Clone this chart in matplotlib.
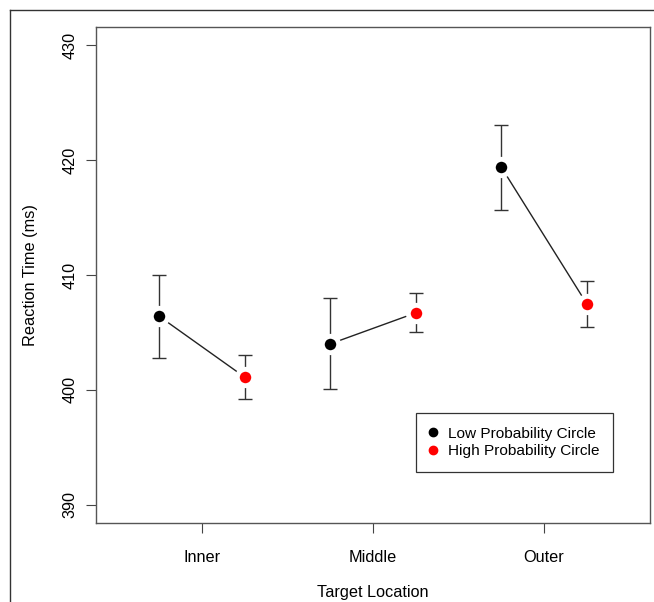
import matplotlib
matplotlib.use("Agg")
import matplotlib.pyplot as plt
from matplotlib.lines import Line2D
import numpy as np

plt.rcParams['font.family'] = ['Liberation Sans', 'DejaVu Sans']

categories = ["Inner", "Middle", "Outer"]
low_mean = [406.4, 404.0, 419.4]
low_upper = [410.0, 408.0, 423.1]
low_lower = [402.8, 400.1, 415.7]
high_mean = [401.1, 406.7, 407.5]
high_upper = [403.0, 408.4, 409.5]
high_lower = [399.2, 405.0, 405.5]
yticks = [390, 400, 410, 420, 430]

FS = 11.7
W, H = 654, 602
fig = plt.figure(figsize=(W / 100, H / 100), dpi=100)
ax = fig.add_axes([96 / W, 1 - 523 / H, 554 / W, 496 / H])

x = np.arange(1, len(categories) + 1)
off = 0.25

series = [
    (x - off, low_mean, low_lower, low_upper, "black", "Low Probability Circle"),
    (x + off, high_mean, high_lower, high_upper, "#ff0000", "High Probability Circle"),
]

# error bars
for xs, m, lo, up, c, lab in series:
    m = np.array(m); lo = np.array(lo); up = np.array(up)
    ax.errorbar(xs, m, yerr=[m - lo, up - m], fmt="none", ecolor="#333333",
                elinewidth=1.0, capsize=5, capthick=1.0, zorder=2)

# connecting lines per location
for i in range(len(categories)):
    ax.plot([x[i] - off, x[i] + off], [low_mean[i], high_mean[i]],
            color="#222222", lw=1.0, zorder=3)

handles = []
for xs, m, lo, up, c, lab in series:
    ax.plot(xs, m, linestyle="none", marker="o", markersize=11.8,
            markerfacecolor=c, markeredgecolor="white", markeredgewidth=3.5,
            zorder=4)
    handles.append(Line2D([], [], linestyle="none", marker="o", markersize=6,
                          markerfacecolor=c, markeredgecolor=c, label=lab))

ax.set_xlim(0.38, 3.62)
ax.set_ylim(388.4, 431.6)
ax.set_xticks(x)
ax.set_xticklabels(categories)
ax.set_yticks(yticks)
ax.set_yticklabels([str(v) for v in yticks], rotation=90, va="center")
ax.tick_params(axis="x", length=7.2, width=0.8, color="#444444", pad=12,
               labelsize=FS)
ax.tick_params(axis="y", length=7.2, width=0.8, color="#444444", pad=6,
               labelsize=FS)
for s in ax.spines.values():
    s.set_color("#555555")
    s.set_linewidth(1.0)

fig.text(31 / W, 1 - 275 / H, "Reaction Time (ms)", fontsize=FS,
         rotation=90, ha="center", va="center")
fig.text(373 / W, 1 - 593 / H, "Target Location", fontsize=FS,
         ha="center", va="center")

leg = ax.legend(handles=handles, loc="upper left",
                bbox_to_anchor=(416 / W, 1 - 413 / H),
                bbox_transform=fig.transFigure, borderaxespad=0,
                frameon=True, fancybox=False, fontsize=11.1,
                handlelength=0.4, handletextpad=0.75, borderpad=0.9,
                labelspacing=0.22)
leg.get_frame().set_edgecolor("black")
leg.get_frame().set_linewidth(0.9)

# outer frame (partially visible)
fig.add_artist(Line2D([9.5 / W, 1.0], [1 - 9.5 / H, 1 - 9.5 / H],
                      transform=fig.transFigure, color="#333333", lw=1.0))
fig.add_artist(Line2D([9.5 / W, 9.5 / W], [0.0, 1 - 9.5 / H],
                      transform=fig.transFigure, color="#333333", lw=1.0))

fig.savefig("out.png", dpi=100)
